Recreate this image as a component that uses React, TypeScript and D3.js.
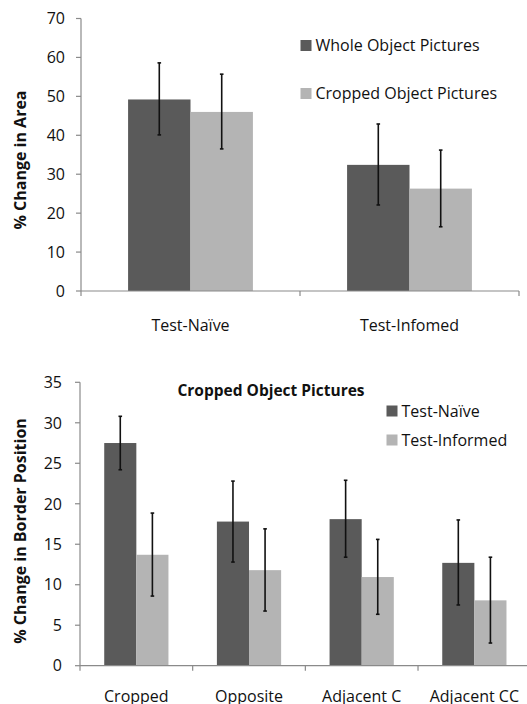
import React from "react";
import * as d3 from "d3";

const areaCategories = ["Test-Naïve", "Test-Infomed"];
const areaSeries = ["Whole Object Pictures", "Cropped Object Pictures"];
const areaValues = [
  [49.2, 32.4],
  [46.0, 26.3],
];
const areaErrLow = [
  [40.1, 22.1],
  [36.5, 16.5],
];
const areaErrHigh = [
  [58.6, 42.9],
  [55.7, 36.2],
];
const areaTicks = [0, 10, 20, 30, 40, 50, 60, 70];

const borderTitle = "Cropped Object Pictures";
const borderCategories = ["Cropped", "Opposite", "Adjacent C", "Adjacent CC"];
const borderSeries = ["Test-Naïve", "Test-Informed"];
const borderValues = [
  [27.5, 17.8, 18.1, 12.7],
  [13.7, 11.8, 10.95, 8.07],
];
const borderErrLow = [
  [24.2, 12.8, 13.4, 7.5],
  [8.6, 6.75, 6.35, 2.8],
];
const borderErrHigh = [
  [30.8, 22.8, 22.9, 18.0],
  [18.85, 16.9, 15.6, 13.4],
];
const borderTicks = [0, 5, 10, 15, 20, 25, 30, 35];

const colors = ["#5a5a5a", "#b4b4b4"];
const FONT = "'Open Sans', sans-serif";
const AXIS = "#8a8a8a";

type PanelProps = {
  categories: string[];
  series: string[];
  values: number[][];
  errLow: number[][];
  errHigh: number[][];
  ticks: number[];
  yMax: number;
  x0: number;
  x1: number;
  yTop: number;
  yBottom: number;
  tickLabelX: number;
  yTitle: string;
  yTitleX: number;
  yTitleY: number;
  catLabelY: number;
  legendX: number;
  legendYs: number[];
  legendSize: number;
  title?: string;
  titleX?: number;
  titleY?: number;
};

function Panel(p: PanelProps) {
  const x = d3.scaleBand<string>().domain(p.categories).range([p.x0, p.x1]).padding(0);
  const bw = x.bandwidth();
  const g = bw * 0.57;
  const xs = d3
    .scaleBand<string>()
    .domain(p.series)
    .range([(bw - g) / 2, (bw + g) / 2])
    .padding(0);
  const y = d3.scaleLinear().domain([0, p.yMax]).range([p.yBottom, p.yTop]);
  const boundaries = [...p.categories.map((c) => x(c) as number), p.x1];

  return (
    <g>
      {p.series.map((s, si) =>
        p.categories.map((c, ci) => (
          <rect
            key={s + c}
            x={(x(c) as number) + (xs(s) as number)}
            y={y(p.values[si][ci])}
            width={xs.bandwidth()}
            height={y(0) - y(p.values[si][ci])}
            fill={colors[si]}
          />
        ))
      )}
      {p.series.map((s, si) =>
        p.categories.map((c, ci) => {
          const cx = (x(c) as number) + (xs(s) as number) + xs.bandwidth() / 2;
          const lo = y(p.errLow[si][ci]);
          const hi = y(p.errHigh[si][ci]);
          return (
            <g key={"e" + s + c} stroke="#111" strokeWidth={1.6}>
              <line x1={cx} x2={cx} y1={lo} y2={hi} />
              <line x1={cx - 1.8} x2={cx + 1.8} y1={lo} y2={lo} />
              <line x1={cx - 1.8} x2={cx + 1.8} y1={hi} y2={hi} />
            </g>
          );
        })
      )}
      <line x1={p.x0} x2={p.x0} y1={y(p.yMax)} y2={y(0)} stroke={AXIS} strokeWidth={1.2} />
      {p.ticks.map((t) => (
        <g key={"t" + t}>
          <line x1={p.x0 - 5} x2={p.x0} y1={y(t)} y2={y(t)} stroke={AXIS} strokeWidth={1.2} />
          <text
            x={p.tickLabelX}
            y={y(t)}
            dy="0.36em"
            textAnchor="end"
            fontFamily={FONT}
            fontSize={16}
            fill="#111"
          >
            {t}
          </text>
        </g>
      ))}
      <line x1={p.x0} x2={p.x1} y1={y(0)} y2={y(0)} stroke={AXIS} strokeWidth={1.2} />
      {boundaries.map((b, i) => (
        <line key={"b" + i} x1={b} x2={b} y1={y(0)} y2={y(0) + 5} stroke={AXIS} strokeWidth={1.2} />
      ))}
      {p.categories.map((c) => (
        <text
          key={"c" + c}
          x={(x(c) as number) + bw / 2}
          y={p.catLabelY}
          textAnchor="middle"
          fontFamily={FONT}
          fontSize={16}
          fill="#111"
        >
          {c}
        </text>
      ))}
      <text
        transform={`translate(${p.yTitleX},${p.yTitleY}) rotate(-90)`}
        textAnchor="middle"
        fontFamily={FONT}
        fontWeight="bold"
        fontSize={16}
        fill="#111"
      >
        {p.yTitle}
      </text>
      {p.series.map((s, si) => (
        <g key={"l" + s}>
          <rect
            x={p.legendX}
            y={p.legendYs[si] - p.legendSize / 2}
            width={p.legendSize}
            height={p.legendSize}
            fill={colors[si]}
          />
          <text
            x={p.legendX + p.legendSize + 4}
            y={p.legendYs[si]}
            dy="0.36em"
            fontFamily={FONT}
            fontSize={16}
            fill="#111"
          >
            {s}
          </text>
        </g>
      ))}
      {p.title && (
        <text
          x={p.titleX}
          y={p.titleY}
          dy="0.36em"
          textAnchor="middle"
          fontFamily={FONT}
          fontWeight="bold"
          fontSize={15.5}
          fill="#111"
        >
          {p.title}
        </text>
      )}
    </g>
  );
}

export default function App() {
  return (
    <svg
      width={527}
      height={704}
      style={{ position: "absolute", left: 0, top: 0, display: "block", background: "#fff" }}
    >
      <Panel
        categories={areaCategories}
        series={areaSeries}
        values={areaValues}
        errLow={areaErrLow}
        errHigh={areaErrHigh}
        ticks={areaTicks}
        yMax={70}
        x0={81}
        x1={519}
        yTop={18.5}
        yBottom={291}
        tickLabelX={65}
        yTitle="% Change in Area"
        yTitleX={26}
        yTitleY={160}
        catLabelY={331}
        legendX={300.5}
        legendYs={[45.5, 93.5]}
        legendSize={11}
      />
      <Panel
        categories={borderCategories}
        series={borderSeries}
        values={borderValues}
        errLow={borderErrLow}
        errHigh={borderErrHigh}
        ticks={borderTicks}
        yMax={35}
        x0={80}
        x1={530.7}
        yTop={382.3}
        yBottom={665.7}
        tickLabelX={62}
        yTitle="% Change in Border Position"
        yTitleX={26}
        yTitleY={531}
        catLabelY={702}
        legendX={386.5}
        legendYs={[411, 440]}
        legendSize={11}
        title={borderTitle}
        titleX={271}
        titleY={390}
      />
    </svg>
  );
}
